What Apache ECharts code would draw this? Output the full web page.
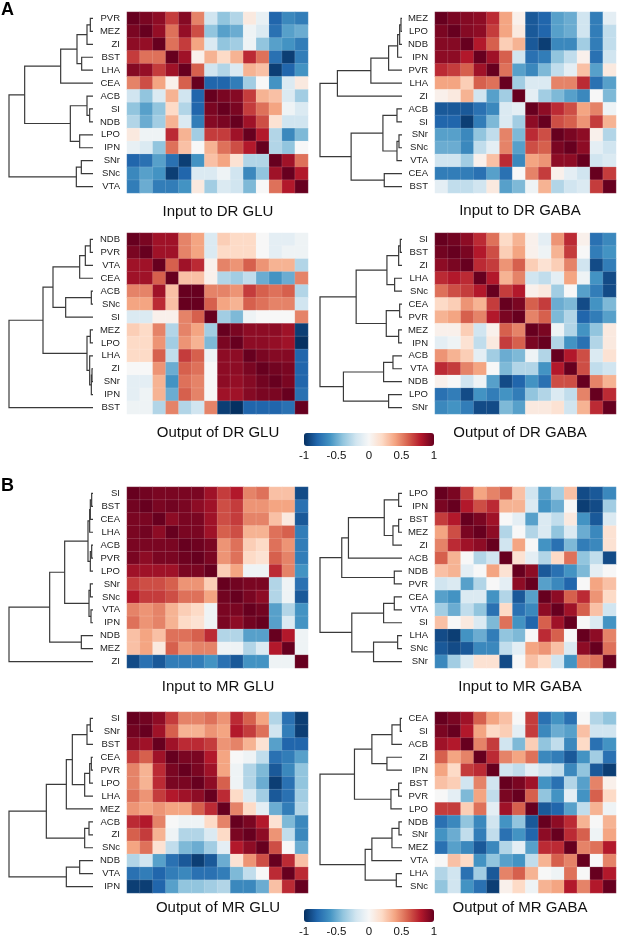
<!DOCTYPE html>
<html>
<head>
<meta charset="utf-8">
<script src="https://cdn.jsdelivr.net/npm/echarts@6/dist/echarts.min.js"></script>
<style>
html, body { margin: 0; padding: 0; background: #fff; }
#chart { width: 617px; height: 938px; }
</style>
</head>
<body>
<div id="chart"></div>
<script>
// each matrix is stored as its upper triangle (row i holds columns i..n-1), mirrored below
// tree rows are [childA, childB, height]; leaves are 0..13, merged clusters 14..26

// Input to DR GLU
const inDrGluLabels = ['PVR', 'MEZ', 'ZI', 'BST', 'LHA', 'CEA', 'ACB', 'SI', 'NDB', 'LPO', 'IPN', 'SNr', 'SNc', 'VTA'];
const inDrGluVals = [
	[1, .95, .9, .7, .92, .5, -.2, -.4, -.3, .1, -.08, -.8, -.65, -.7],
	[1, .88, .55, .88, .65, -.4, -.55, -.5, -.05, -.15, -.75, -.55, -.5],
	[1, .55, .7, .4, -.15, -.4, -.35, -.05, -.4, -.55, -.6, -.7],
	[1, .85, .05, .35, .2, .35, .75, .55, -.75, -.95, -.7],
	[1, .6, -.2, -.3, -.15, .35, .3, -.95, -.8, -.6],
	[1, -.8, -.8, -.7, -.35, 0, -.6, -.15, .1],
	[1, .95, .92, .7, .35, .3, -.15, -.35],
	[1, .95, .7, .55, .4, -.05, -.15],
	[1, .85, .65, .15, -.2, -.2],
	[1, .8, -.3, -.65, -.45],
	[1, -.3, -.4, 0],
	[1, .85, .55],
	[1, .8],
	[1]
];
const inDrGluTree = [
	[0, 1, 8], [14, 2, 18], [3, 4, 34], [15, 16, 48], [17, 5, 97],
	[7, 8, 10], [6, 19, 18], [9, 10, 40], [20, 21, 68], [18, 22, 205],
	[11, 12, 35], [24, 13, 50], [23, 25, 252]
];

// Input to DR GABA
const inDrGabaLabels = ['MEZ', 'LPO', 'NDB', 'IPN', 'PVR', 'LHA', 'ZI', 'ACB', 'SI', 'SNr', 'SNc', 'VTA', 'CEA', 'BST'];
const inDrGabaVals = [
	[1, .95, .92, .9, .75, .4, .05, -.85, -.8, -.55, -.5, -.2, -.7, -.1],
	[1, .92, .9, .7, .4, .1, -.85, -.8, -.55, -.5, -.2, -.7, -.25],
	[1, .8, .6, .25, .35, -.85, -.95, -.65, -.65, -.35, -.7, -.25],
	[1, .85, .6, -.2, -.75, -.7, -.4, -.25, .05, -.75, -.2],
	[1, .55, -.55, -.65, -.45, -.25, -.1, .3, -.55, .1],
	[1, -.35, -.15, -.15, .5, .5, .75, -.75, -.55],
	[1, -.1, -.35, -.45, -.55, -.65, 0, -.45],
	[1, .9, .75, .65, .4, .5, -.05],
	[1, .65, .6, .45, .7, .35],
	[1, .95, .9, .05, -.3],
	[1, .9, -.1, -.2],
	[1, -.2, -.15],
	[1, .7],
	[1]
];
const inDrGabaTree = [
	[0, 1, 3], [14, 2, 7], [15, 3, 13], [16, 4, 40], [17, 5, 93], [18, 6, 193],
	[9, 10, 9], [20, 11, 15], [7, 8, 15], [22, 21, 57], [12, 13, 53],
	[23, 24, 152], [19, 25, 245]
];

// Output of DR GLU
const outDrGluLabels = ['NDB', 'PVR', 'VTA', 'CEA', 'ACB', 'SNc', 'SI', 'MEZ', 'LPO', 'LHA', 'ZI', 'SNr', 'IPN', 'BST'];
const outDrGluVals = [
	[1, .95, .85, .85, .5, .4, -.15, .25, .2, .2, 0, -.1, -.1, -.05],
	[1, .85, .85, .5, .4, -.15, .2, .2, .2, 0, -.1, -.05, -.05],
	[1, .6, .85, .75, .05, .5, .45, .6, .45, .35, .35, -.3],
	[1, .3, .3, .05, -.3, -.35, -.25, -.5, -.6, -.5, .5],
	[1, 1, .5, .5, .45, .7, .6, .55, .6, -.3],
	[1, .6, .4, .35, .6, .55, .5, .5, -.2],
	[1, -.35, -.45, -.05, 0, 0, 0, .5],
	[1, .95, .9, .9, .9, .85, -.95],
	[1, .9, .9, .88, .85, -1],
	[1, .95, .92, .92, -.8],
	[1, .97, .95, -.8],
	[1, .95, -.8],
	[1, -.75],
	[1]
];
const outDrGluTree = [
	[0, 1, 8], [14, 2, 23], [15, 3, 40], [4, 5, 5], [17, 6, 82], [16, 18, 120],
	[7, 8, 8], [10, 11, 3], [21, 12, 5], [9, 22, 10], [20, 23, 18],
	[19, 24, 150], [25, 13, 252]
];

// Output of DR GABA
const outDrGabaLabels = ['SI', 'BST', 'ZI', 'LHA', 'SNc', 'CEA', 'PVR', 'MEZ', 'IPN', 'ACB', 'VTA', 'NDB', 'LPO', 'SNr'];
const outDrGabaVals = [
	[1, .97, .9, .75, .55, .2, .35, .05, -.1, .45, .75, .05, -.75, -.65],
	[1, .95, .8, .65, .25, .4, .05, -.05, .35, .7, 0, -.7, -.6],
	[1, .75, .7, .45, .6, .25, .15, .25, .5, -.2, -.9, -.7],
	[1, .8, .35, .5, -.2, -.25, -.1, .4, -.05, -.6, -.9],
	[1, .7, .8, .05, .1, -.35, 0, -.55, -.7, -.9],
	[1, .95, .6, .7, -.5, -.45, -.9, -.6, -.45],
	[1, .5, .6, -.45, -.3, -.8, -.7, -.55],
	[1, .95, -.05, -.3, -.6, -.4, .1],
	[1, -.3, -.6, -.75, -.3, .1],
	[1, .8, .65, -.15, .15],
	[1, .65, -.25, -.2],
	[1, .5, .35],
	[1, .75],
	[1]
];
const outDrGabaTree = [
	[0, 1, 5], [14, 2, 10], [3, 4, 22], [15, 16, 45], [5, 6, 7], [7, 8, 10],
	[18, 19, 47], [17, 20, 137], [9, 10, 27], [22, 11, 55], [12, 13, 40],
	[23, 24, 175], [21, 25, 245]
];

// Input to MR GLU
const inMrGluLabels = ['SI', 'BST', 'CEA', 'LHA', 'ACB', 'PVR', 'LPO', 'SNr', 'SNc', 'VTA', 'IPN', 'NDB', 'MEZ', 'ZI'];
const inMrGluVals = [
	[1, .97, .95, .95, .95, .95, .85, .7, .8, .5, .55, .3, .3, -.9],
	[1, .95, .97, .95, .9, .85, .65, .7, .45, .45, .4, .4, -.75],
	[1, .9, .95, .95, .85, .65, .7, .5, .5, .3, .1, -.85],
	[1, .95, .95, .85, .6, .65, .35, .35, .55, .6, -.7],
	[1, .98, .95, .45, .55, .25, .2, .55, .45, -.7],
	[1, .95, .45, .55, .2, .15, .6, .5, -.7],
	[1, .25, .4, -.05, -.05, .75, .5, -.6],
	[1, .97, .95, .95, -.3, -.05, -.75],
	[1, .95, .9, -.3, -.05, -.85],
	[1, .97, -.55, -.3, -.6],
	[1, -.55, -.15, -.6],
	[1, .8, -.05],
	[1, -.05],
	[1]
];
const inMrGluTree = [
	[0, 1, 4], [14, 2, 8], [15, 3, 10], [4, 5, 4], [17, 6, 8], [16, 18, 15],
	[7, 8, 8], [9, 10, 6], [20, 21, 12], [19, 22, 85], [11, 12, 35],
	[23, 24, 130], [25, 13, 252]
];

// Input to MR GABA
const inMrGabaLabels = ['LPO', 'IPN', 'BST', 'MEZ', 'ZI', 'ACB', 'NDB', 'PVR', 'CEA', 'VTA', 'SI', 'LHA', 'SNc', 'SNr'];
const inMrGabaVals = [
	[1, .95, .7, .4, .5, .6, .3, -.2, -.55, -.35, .3, -.9, -.85, -.65],
	[1, .8, .65, .75, .35, .35, -.15, -.6, -.5, 0, -.95, -.9, -.35],
	[1, .95, .85, 0, -.1, -.55, -.15, -.25, .1, -.6, -.85, -.15],
	[1, .9, -.3, 0, -.3, -.15, -.4, -.15, -.5, -.65, .15],
	[1, -.2, .4, 0, -.6, -.75, -.45, -.7, -.65, .15],
	[1, .15, -.1, -.3, .2, .55, -.4, -.25, -.9],
	[1, .9, -.85, -.75, -.6, -.45, -.1, 0],
	[1, -.55, -.65, -.8, 0, .4, .3],
	[1, .9, .6, .75, .45, .2],
	[1, .85, .6, .3, -.2],
	[1, 0, -.15, -.6],
	[1, .9, .5],
	[1, .55],
	[1]
];
const inMrGabaTree = [
	[0, 1, 10], [2, 3, 10], [15, 4, 27], [14, 16, 53], [17, 5, 160], [6, 7, 23],
	[18, 19, 180], [8, 9, 23], [21, 10, 55], [11, 12, 13], [23, 13, 85],
	[22, 24, 150], [20, 25, 245]
];

// Output of MR GLU
const outMrGluLabels = ['SI', 'SNr', 'BST', 'CEA', 'PVR', 'LPO', 'LHA', 'MEZ', 'ACB', 'ZI', 'SNc', 'NDB', 'VTA', 'IPN'];
const outMrGluVals = [
	[1, .97, .9, .7, .5, .5, .55, .45, .75, .6, .4, -.3, -.75, -.95],
	[1, .85, .6, .35, .35, .45, .4, .8, .7, .55, -.2, -.7, -.95],
	[1, .85, .75, .75, .7, .45, .5, .35, .15, -.55, -.8, -.8],
	[1, .95, .95, .8, .4, 0, -.05, -.25, -.75, -.7, -.55],
	[1, .95, .85, .4, -.05, -.3, -.45, -.85, -.65, -.4],
	[1, .9, .6, -.05, -.3, -.5, -.95, -.75, -.4],
	[1, .75, .2, -.15, -.35, -.85, -.75, -.35],
	[1, .5, .2, -.1, -.5, -.7, -.3],
	[1, .95, .8, .15, -.45, -.65],
	[1, .9, .45, -.25, -.65],
	[1, .65, 0, -.5],
	[1, .75, .3],
	[1, .75],
	[1]
];
const outMrGluTree = [
	[0, 1, 8], [14, 2, 18], [3, 4, 5], [16, 5, 10], [17, 6, 25], [15, 18, 62],
	[19, 7, 80], [8, 9, 12], [21, 10, 25], [20, 22, 140], [11, 12, 40],
	[24, 13, 80], [23, 25, 252]
];

// Output of MR GABA
const outMrGabaLabels = ['CEA', 'SI', 'ACB', 'ZI', 'IPN', 'BST', 'PVR', 'LPO', 'NDB', 'SNr', 'MEZ', 'VTA', 'LHA', 'SNc'];
const outMrGabaVals = [
	[1, .95, .85, .6, .4, .3, 0, .7, -.75, -.6, -.75, 0, -.3, -.4],
	[1, .8, .4, .2, .25, -.1, .7, -.65, -.5, -.55, .3, -.2, -.2],
	[1, .5, .7, -.2, -.45, .25, -.4, -.25, -.65, .2, -.75, -.6],
	[1, .75, .5, .4, .55, -.65, -.7, -.85, -.6, -.35, -.75],
	[1, -.2, -.25, -.1, -.2, -.25, -.65, -.4, -.85, -.95],
	[1, .95, .85, -.6, -.75, -.3, -.55, .5, .05],
	[1, .6, -.4, -.6, -.1, -.6, .6, .2],
	[1, -.85, -.8, -.55, -.25, .35, -.05],
	[1, .9, .75, .35, 0, .35],
	[1, .75, .6, -.05, .4],
	[1, .5, .55, .8],
	[1, 0, .5],
	[1, .8],
	[1]
];
const outMrGabaTree = [
	[0, 1, 5], [14, 2, 30], [3, 4, 45], [15, 16, 90], [5, 6, 10], [18, 7, 33],
	[17, 19, 142], [8, 9, 9], [21, 10, 30], [22, 11, 90], [12, 13, 17],
	[23, 24, 110], [20, 25, 245]
];

const colorbarTicks = [-1, -0.5, 0, 0.5, 1];
const rdbu = ['#053061', '#2166ac', '#4393c3', '#92c5de', '#d1e5f0', '#f7f7f7',
	'#fddbc7', '#f4a582', '#d6604d', '#b2182b', '#67001f'];
const font = 'Liberation Sans, Arial, sans-serif';

const panels = [
	{ title: 'Input to DR GLU', labels: inDrGluLabels, vals: inDrGluVals, tree: inDrGluTree, col: 0, top: 12, ty: 212 },
	{ title: 'Input to DR GABA', labels: inDrGabaLabels, vals: inDrGabaVals, tree: inDrGabaTree, col: 1, top: 12, ty: 211 },
	{ title: 'Output of DR GLU', labels: outDrGluLabels, vals: outDrGluVals, tree: outDrGluTree, col: 0, top: 233, ty: 433 },
	{ title: 'Output of DR GABA', labels: outDrGabaLabels, vals: outDrGabaVals, tree: outDrGabaTree, col: 1, top: 233, ty: 433 },
	{ title: 'Input to MR GLU', labels: inMrGluLabels, vals: inMrGluVals, tree: inMrGluTree, col: 0, top: 487, ty: 687 },
	{ title: 'Input to MR GABA', labels: inMrGabaLabels, vals: inMrGabaVals, tree: inMrGabaTree, col: 1, top: 487, ty: 687 },
	{ title: 'Output of MR GLU', labels: outMrGluLabels, vals: outMrGluVals, tree: outMrGluTree, col: 0, top: 712, ty: 908 },
	{ title: 'Output of MR GABA', labels: outMrGabaLabels, vals: outMrGabaVals, tree: outMrGabaTree, col: 1, top: 712, ty: 908 }
];
const colLayout = [
	{ heatLeft: 127, dendLeft: 9, dendWidth: 84, titleX: 218 },
	{ heatLeft: 435, dendLeft: 320, dendWidth: 82, titleX: 520 }
];
const cellSize = 181;

function fullMatrix(vals) {
	let n = vals.length;
	let m = [];
	for (let i = 0; i < n; i++) m.push(new Array(n));
	for (let i = 0; i < n; i++) {
		for (let k = 0; k < vals[i].length; k++) {
			m[i][i + k] = vals[i][k];
			m[i + k][i] = vals[i][k];
		}
	}
	return m;
}

function dendroLines(tree, n) {
	let pos = [];
	for (let i = 0; i < n; i++) pos.push([0, i]);
	let lines = [];
	tree.forEach(([a, b, h]) => {
		let pa = pos[a], pb = pos[b];
		lines.push({ coords: [[pa[0], pa[1]], [h, pa[1]], [h, pb[1]], [pb[0], pb[1]]] });
		pos.push([h, (pa[1] + pb[1]) / 2]);
	});
	return lines;
}

let grid = [], xAxis = [], yAxis = [], series = [], graphic = [];
let heatIdx = [[], []];

panels.forEach((p, k) => {
	let lay = colLayout[p.col];
	let n = p.labels.length;
	let m = fullMatrix(p.vals);
	let data = [];
	for (let i = 0; i < n; i++) {
		for (let j = 0; j < n; j++) data.push([j, i, m[i][j]]);
	}

	// heatmap grid
	let g = grid.length;
	grid.push({ left: lay.heatLeft, top: p.top, width: cellSize, height: cellSize });
	xAxis.push({ type: 'category', gridIndex: g, data: p.labels, show: false });
	yAxis.push({
		type: 'category', gridIndex: g, data: p.labels, inverse: true,
		axisLine: { show: false }, axisTick: { show: false },
		axisLabel: { interval: 0, fontSize: 9.5, color: '#222', margin: 7, fontFamily: font }
	});
	heatIdx[k < 4 ? 0 : 1].push(series.length);
	series.push({
		type: 'heatmap', xAxisIndex: g, yAxisIndex: g, data: data, silent: true,
		itemStyle: { borderColor: 'rgba(255,255,255,0.25)', borderWidth: 0.5 }
	});

	// dendrogram grid
	let d = grid.length;
	let rootH = p.tree[p.tree.length - 1][2];
	grid.push({ left: lay.dendLeft, top: p.top, width: lay.dendWidth, height: cellSize });
	xAxis.push({ type: 'value', gridIndex: d, min: 0, max: rootH, inverse: true, show: false });
	yAxis.push({ type: 'value', gridIndex: d, min: -0.5, max: n - 0.5, inverse: true, show: false });
	series.push({
		type: 'lines', coordinateSystem: 'cartesian2d', xAxisIndex: d, yAxisIndex: d,
		polyline: true, silent: true, data: dendroLines(p.tree, n),
		lineStyle: { color: '#3a3a3a', width: 1.2, opacity: 1 }
	});

	graphic.push({
		type: 'text', x: lay.titleX, y: p.ty,
		style: { text: p.title, fontSize: 15, fontFamily: font, fill: '#111', align: 'center', verticalAlign: 'middle' }
	});
});

// colour bar tick axes
const barTops = [433, 909];
barTops.forEach(t => {
	let c = grid.length;
	grid.push({ left: 304, top: t, width: 130, height: 13 });
	xAxis.push({
		type: 'value', gridIndex: c,
		min: colorbarTicks[0], max: colorbarTicks[colorbarTicks.length - 1],
		interval: colorbarTicks[1] - colorbarTicks[0],
		axisLine: { show: false }, axisTick: { show: false }, splitLine: { show: false },
		axisLabel: { fontSize: 11.5, color: '#111', margin: 4, fontFamily: font }
	});
	yAxis.push({ type: 'value', gridIndex: c, show: false });
});

graphic.push({ type: 'text', x: 1, y: 1, style: { text: 'A', fontSize: 18, fontWeight: 'bold', fontFamily: font, fill: '#000' } });
graphic.push({ type: 'text', x: 1, y: 477, style: { text: 'B', fontSize: 18, fontWeight: 'bold', fontFamily: font, fill: '#000' } });

let chart = echarts.init(document.getElementById('chart'));
let option = {
	animation: false,
	backgroundColor: '#fff',
	grid: grid,
	xAxis: xAxis,
	yAxis: yAxis,
	visualMap: barTops.map((t, i) => ({
		type: 'continuous', min: -1, max: 1, seriesIndex: heatIdx[i],
		orient: 'horizontal', left: 304, top: t, itemWidth: 13, itemHeight: 130,
		calculable: false, padding: 0, text: null, showLabel: false,
		inRange: { color: rdbu }
	})),
	series: series,
	graphic: graphic
};
chart.setOption(option);
</script>
</body>
</html>
